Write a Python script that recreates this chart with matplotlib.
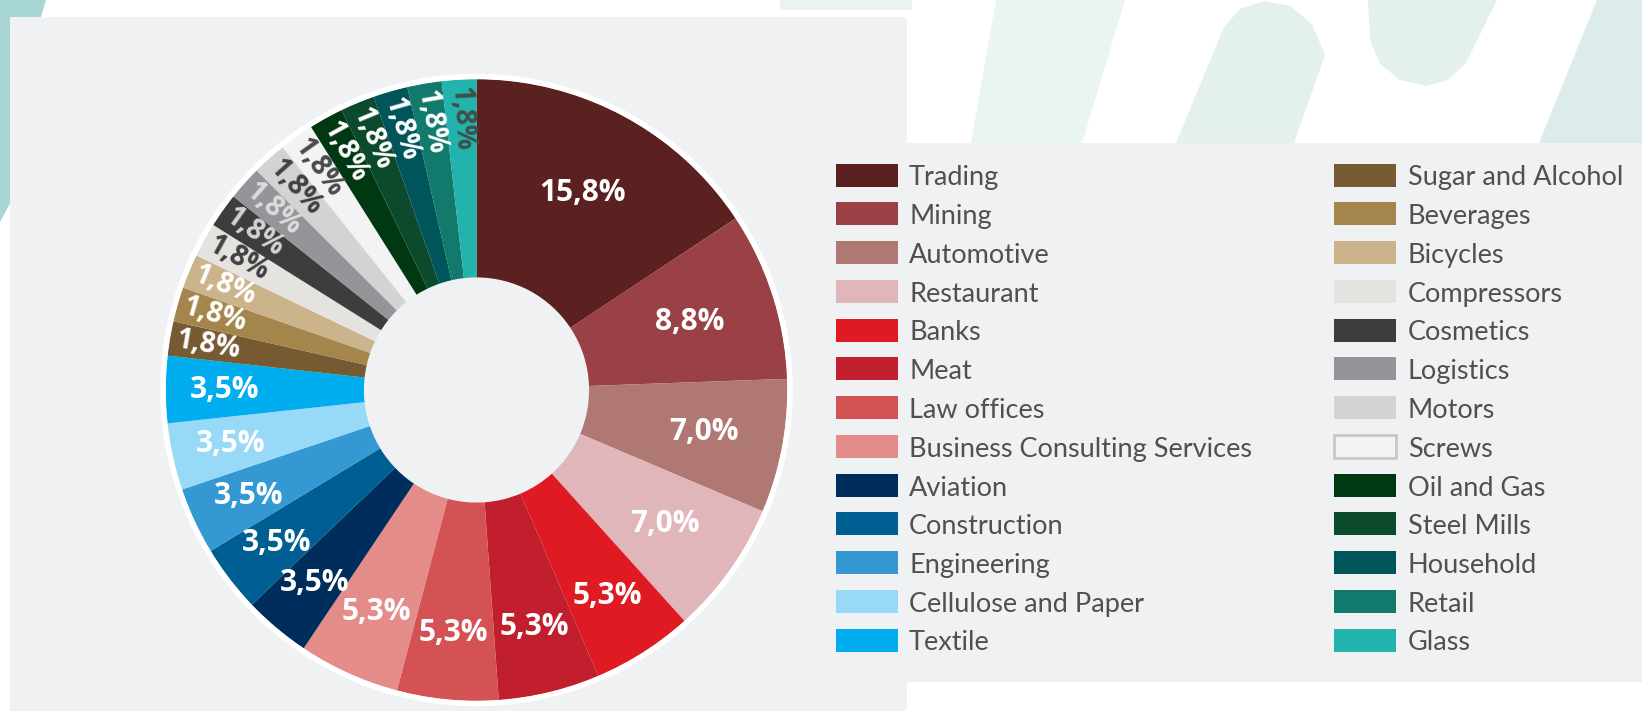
import matplotlib
matplotlib.use("Agg")
import numpy as np
import matplotlib.pyplot as plt
from matplotlib.patches import Rectangle, Polygon, Circle

# Data
sectors = ["Trading", "Mining", "Automotive", "Restaurant", "Banks", "Meat",
           "Law offices", "Business Consulting Services", "Aviation", "Construction",
           "Engineering", "Cellulose and Paper", "Textile",
           "Sugar and Alcohol", "Beverages", "Bicycles", "Compressors", "Cosmetics",
           "Logistics", "Motors", "Screws", "Oil and Gas", "Steel Mills",
           "Household", "Retail", "Glass"]
shares = [15.8, 8.8, 7.0, 7.0, 5.3, 5.3, 5.3, 5.3, 3.5, 3.5, 3.5, 3.5, 3.5,
          1.8, 1.8, 1.8, 1.8, 1.8, 1.8, 1.8, 1.8, 1.8, 1.8, 1.8, 1.8, 1.8]
colors = ["#5a2120", "#9a4146", "#b07872", "#e0b6bb", "#e01a22", "#c21f2e",
          "#d45253", "#e38c89", "#002e5c", "#005f92", "#3498d3", "#97d9f6",
          "#00adef", "#765b32", "#a4854c", "#cbb38b", "#e5e3df", "#3d3d3d",
          "#939598", "#d1d3d4", "#f3f3f3", "#003811", "#0b4a2c", "#00555a",
          "#117a6d", "#22b3ad"]
label_colors = ["white"] * 16 + ["#404040", "#d4d4d4", "#dcdcdc", "#404040",
                                 "#4a4a4a"] + ["white"] * 4 + ["#3f4f4e"]

W, H = 1642, 711
PANEL = "#f0f1f3"
DECO = "#e3f0ee"
LEGEND_FONT = ["Liberation Sans Narrow", "Lato", "DejaVu Sans"]

fig = plt.figure(figsize=(W / 100, H / 100), dpi=100)
fig.patch.set_facecolor("white")

# background layer in pixel coordinates
bg = fig.add_axes([0, 0, 1, 1])
bg.set_xlim(0, W)
bg.set_ylim(H, 0)
bg.axis("off")

# decorative shapes
bg.add_patch(Polygon([(0, 0), (46, 0), (40, 20), (12, 200), (0, 222)],
                     closed=True, fc="#a8d6d6", ec="none"))
bg.add_patch(Polygon([(780, 0), (912, 0), (912, 10), (780, 10)], fc="#e8f3f2", ec="none"))
bg.add_patch(Polygon([(996, 0), (1125, 0), (1082, 143), (971, 143)], fc="#eaf4f3", ec="none"))
bg.add_patch(Polygon([(1176, 143), (1224, 27), (1240, 9), (1264, 1), (1290, 6),
                      (1312, 24), (1325, 55), (1294, 143)], fc=DECO, ec="none"))
bg.add_patch(Polygon([(1368, 0), (1370, 40), (1380, 64), (1400, 80), (1426, 86),
                      (1448, 80), (1466, 63), (1497, 0)], fc=DECO, ec="none"))
bg.add_patch(Polygon([(1597, 0), (W, 0), (W, 143), (1539, 143)], fc="#dcecea", ec="none"))

# panels
bg.add_patch(Rectangle((10, 17), 897, H - 17, fc=PANEL, ec="none"))
bg.add_patch(Rectangle((907, 143), W - 907, 539, fc=PANEL, ec="none"))

# legend
col_swatch_x = [836, 1334]
col_text_x = [909, 1408]
for i, name in enumerate(sectors):
    col, row = divmod(i, 13)
    yc = 175 + 38.75 * row
    ec = "#c8c8c8" if name == "Screws" else "none"
    bg.add_patch(Rectangle((col_swatch_x[col], yc - 11.5), 62, 23,
                           fc=colors[i], ec=ec, lw=2))
    bg.text(col_text_x[col], yc + 3, name, fontsize=19.5, color="#505050",
            family=LEGEND_FONT, va="center", ha="left")

# donut
cx, cy, half = 476.5, 390, 330
ax = fig.add_axes([(cx - half) / W, (H - cy - half) / H, 2 * half / W, 2 * half / H])
R = 311 / half
hole = 0.362
wedges, _ = ax.pie(shares, colors=colors, startangle=90, counterclock=False,
                   radius=R, wedgeprops=dict(width=R * (1 - hole), linewidth=0))
ax.add_patch(Circle((0, 0), R + 2.5 / half, fill=False, ec="white", lw=4))
ax.set_xlim(-1, 1)
ax.set_ylim(-1, 1)
ax.set_aspect("equal")
ax.axis("off")


def label_radius(v):
    if v >= 8:
        return 0.72
    if v >= 7:
        return 0.745
    if v >= 5:
        return 0.785
    if v >= 3:
        return 0.81
    return 0.875


for w, v, tc in zip(wedges, shares, label_colors):
    theta = (w.theta1 + w.theta2) / 2
    r = label_radius(v) * R
    x, y = r * np.cos(np.radians(theta)), r * np.sin(np.radians(theta))
    txt = f"{v:.1f}".replace(".", ",") + "%"
    if v < 3:
        ax.text(x, y, txt, rotation=theta - 180, rotation_mode="anchor",
                ha="center", va="center", fontsize=20, fontweight="bold",
                family="Open Sans", color=tc)
    else:
        ax.text(x, y, txt, ha="center", va="center", fontsize=21.5,
                fontweight="bold", family="Open Sans", color=tc)

fig.savefig("out.png", dpi=100, facecolor=fig.get_facecolor())
